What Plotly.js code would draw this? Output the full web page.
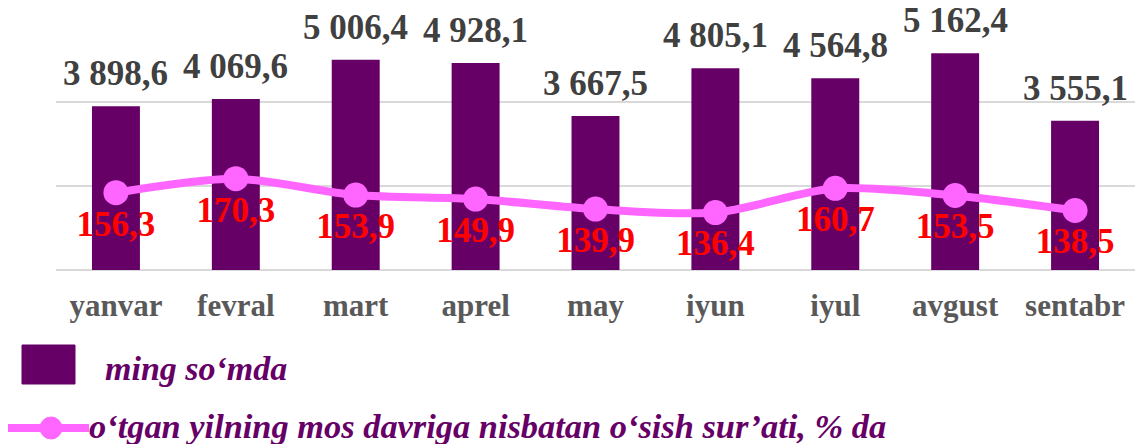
<!DOCTYPE html>
<html>
<head>
<meta charset="utf-8">
<script src="https://cdn.plot.ly/plotly-3.0.1.min.js"></script>
<style>html,body{margin:0;padding:0;background:#fff;}#chart{width:1135px;height:444px;}</style>
</head>
<body>
<div id="chart"></div>
<script>
var months = ["yanvar","fevral","mart","aprel","may","iyun","iyul","avgust","sentabr"];
var amounts = [3898.6, 4069.6, 5006.4, 4928.1, 3667.5, 4805.1, 4564.8, 5162.4, 3555.1];
var growth = [156.3, 170.3, 153.9, 149.9, 139.9, 136.4, 160.7, 153.5, 138.5];
var barName = "ming so‘mda";
var lineName = "o‘tgan yilning mos davriga nisbatan o‘sish sur’ati, % da";

var SERIF = "Liberation Serif";
var PURPLE = "#660066";
var PINK = "#FF66FF";

function fmt(v){
  var s = v.toFixed(1).split(".");
  var i = s[0].replace(/\B(?=(\d{3})+(?!\d))/g, " ");
  return i + "," + s[1];
}

var W = 1135, H = 444, L = 56, R = 0, T = 18, B = 174;
var pw = W - L - R, ph = H - T - B;
function px(x){ return (x - L) / pw; }
function py(y){ return (H - B - y) / ph; }

var bars = {
  type: "bar", x: months, y: amounts, name: barName,
  marker: {color: PURPLE}, width: 0.4, showlegend: false,
  hoverinfo: "skip"
};
var line = {
  type: "scatter", mode: "lines+markers+text", x: months, y: growth, yaxis: "y2",
  name: lineName, showlegend: false,
  line: {color: PINK, width: 8, shape: "spline", smoothing: 0.8},
  marker: {color: PINK, size: 25},
  text: growth.map(fmt), textposition: "bottom center",
  textfont: {family: SERIF, size: 35, color: "#FF0000", weight: "bold"},
  cliponaxis: false, hoverinfo: "skip"
};

var annotations = months.map(function(m, i){
  return {
    x: m, y: amounts[i], xref: "x", yref: "y",
    text: "<b>" + fmt(amounts[i]) + "</b>",
    showarrow: false, yanchor: "bottom", xanchor: "center", yshift: 11,
    font: {family: SERIF, size: 35, color: "#404040"}
  };
});
annotations.push({
  xref: "paper", yref: "paper", x: px(103), y: py(368), xanchor: "left", yanchor: "middle",
  text: "<b><i>" + barName + "</i></b>", showarrow: false,
  font: {family: SERIF, size: 34, color: PURPLE}
});
annotations.push({
  xref: "paper", yref: "paper", x: px(87), y: py(426), xanchor: "left", yanchor: "middle",
  text: "<b><i>" + lineName + "</i></b>", showarrow: false,
  font: {family: SERIF, size: 34.4, color: PURPLE}
});

var shapes = [
  {type: "rect", xref: "paper", yref: "paper", x0: px(22), x1: px(75), y0: py(345), y1: py(384),
   fillcolor: PURPLE, line: {color: PURPLE, width: 1}},
  {type: "line", xref: "paper", yref: "paper", x0: px(8), x1: px(89), y0: py(428), y1: py(428),
   line: {color: PINK, width: 8}},
  {type: "circle", xref: "paper", yref: "paper", x0: px(40), x1: px(62), y0: py(417), y1: py(439),
   fillcolor: PINK, line: {color: PINK, width: 1}}
];

var layout = {
  width: W, height: H,
  margin: {l: L, r: R, t: T, b: B, pad: 0},
  paper_bgcolor: "#ffffff", plot_bgcolor: "#ffffff",
  separators: ", ",
  showlegend: false,
  font: {family: SERIF},
  xaxis: {
    type: "category", range: [-0.5, 8.5], autorange: false, automargin: false,
    showgrid: false, zeroline: false, showline: false, ticks: "",
    ticklabelstandoff: 14,
    tickfont: {family: SERIF, size: 31, color: "#595959", weight: "bold"}
  },
  yaxis: {
    range: [0, 6000], dtick: 2000, showgrid: true, gridcolor: "#D9D9D9", gridwidth: 1.5,
    zeroline: true, zerolinecolor: "#D9D9D9", zerolinewidth: 1.5, automargin: false,
    showticklabels: false, ticks: "", fixedrange: true
  },
  yaxis2: {
    overlaying: "y", side: "right", range: [79, 331], showgrid: false, zeroline: false,
    showticklabels: false, ticks: "", showline: false, automargin: false
  },
  annotations: annotations,
  shapes: shapes
};

Plotly.newPlot("chart", [bars, line], layout, {staticPlot: true, displayModeBar: false});
</script>
</body>
</html>
